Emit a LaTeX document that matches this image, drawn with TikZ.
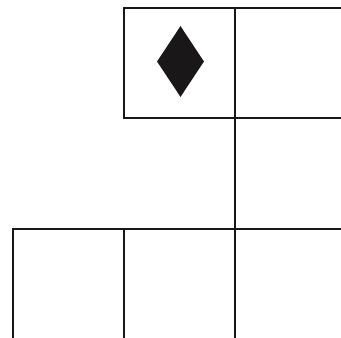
\documentclass[tikz,border=0pt]{standalone}
\usepackage{tikz}
\usetikzlibrary{positioning,shapes.geometric}
\definecolor{Ink}{HTML}{1A1718}

\begin{document}
\begin{tikzpicture}[x=1pt,y=1pt,
    cell/.style={draw=Ink,line width=2pt,minimum width=111pt,minimum height=110pt,inner sep=0pt,outer sep=0pt},
    suit/.style={diamond,fill=Ink,minimum width=47pt,minimum height=71pt,inner sep=0pt}]
        \useasboundingbox (0,0) rectangle (341,-338);
        \clip (0,0) rectangle (341,-338);
        % top row
        \node[cell] (topL) at (179.5,-62.75){};
        \node[cell,right=0pt of topL] (topR){};
        \node[suit] (mark) at (180.5,-61.5){};
        % bottom row
        \node[cell,minimum height=112pt] (botM) at (179.5,-285){};
        \node[cell,minimum height=112pt,left=0pt of botM] (botL){};
        \node[cell,minimum height=112pt,right=0pt of botM] (botR){};
        \draw[Ink,line width=2pt] (topL.south east)--(botR.north west);
      \end{tikzpicture}
\end{document}
